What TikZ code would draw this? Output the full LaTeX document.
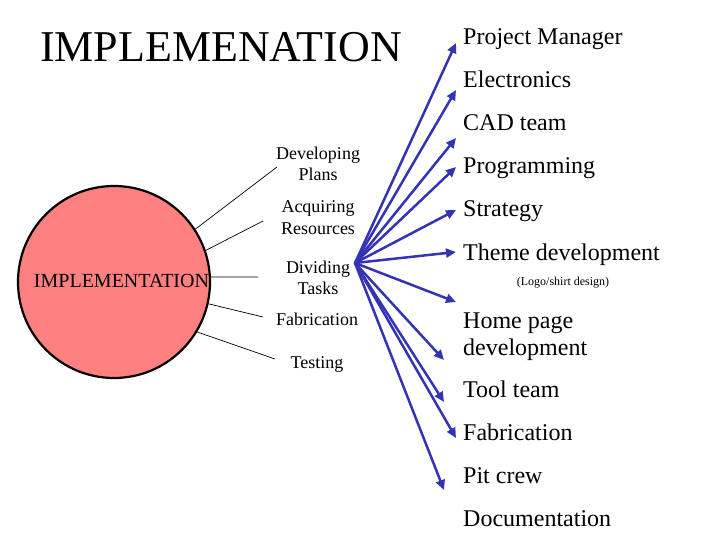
\documentclass[tikz,border=0pt]{standalone}
\usepackage{fontspec}
\setmainfont{Liberation Serif}
\usetikzlibrary{arrows.meta}
\definecolor{arrowblue}{RGB}{51,51,179}
\definecolor{circfill}{RGB}{255,128,128}
\begin{document}
\begin{tikzpicture}[x=1pt,y=-1pt,
  lbl/.style={anchor=base west,inner sep=0pt,font=\fontsize{24}{28}\selectfont},
  sml/.style={anchor=base,inner sep=0pt,font=\fontsize{18}{21}\selectfont},
  thinline/.style={draw=black,line width=0.7pt},
  task/.style={draw=arrowblue,line width=2.5pt,-{Triangle[length=10pt,width=9pt]}}]
\useasboundingbox (0,0) rectangle (720,540);
% title
\node[anchor=base,inner sep=0pt,font=\fontsize{44}{50}\selectfont] (title) at (221,62) {IMPLEMENATION};
% circle
\node[circle,draw=black,line width=2.2pt,fill=circfill,minimum size=192pt,inner sep=0pt] (circ) at (114,282) {};
\node[anchor=base,inner sep=0pt,font=\fontsize{20}{24}\selectfont] (impl) at (121.5,287) {IMPLEMENTATION};
% left labels
\node[sml] (dev1) at (318,160) {Developing};
\node[sml] (dev2) at (318,181) {Plans};
\node[sml] (acq1) at (318,213) {Acquiring};
\node[sml] (acq2) at (318,234) {Resources};
\node[sml] (div1) at (318,273) {Dividing};
\node[sml] (div2) at (318,294) {Tasks};
\node[sml] (fab) at (317,325) {Fabrication};
\node[sml] (test) at (317,368) {Testing};
% free ends of thin lines
\coordinate (edev) at (277,167);
\coordinate (eacq) at (263,221);
\coordinate (ediv) at (258,277);
\coordinate (efab) at (263,317);
\coordinate (etest) at (275,359);
\draw[thinline] (circ.33) -- (edev);
\draw[thinline] (circ.19) -- (eacq);
\draw[thinline] (circ.3) -- (ediv);
\draw[thinline] (circ.-13) -- (efab);
\draw[thinline] (circ.-31) -- (etest);
% right labels
\node[lbl] (pm) at (463,45) {Project Manager};
\node[lbl] (el) at (463,88) {Electronics};
\node[lbl] (cad) at (463,131) {CAD team};
\node[lbl] (prog) at (463,174) {Programming};
\node[lbl] (strat) at (463,217) {Strategy};
\node[lbl] (theme) at (463,260) {Theme development};
\node[anchor=base,inner sep=0pt,font=\fontsize{12}{14}\selectfont] (logo) at (563,285) {(Logo/shirt design)};
\node[lbl] (home1) at (463,328) {Home page};
\node[lbl] (home2) at (463,355) {development};
\node[lbl] (tool) at (463,397) {Tool team};
\node[lbl] (rfab) at (463,440) {Fabrication};
\node[lbl] (pit) at (463,483) {Pit crew};
\node[lbl] (doc) at (463,526) {Documentation};
% arrows
\coordinate (origin) at (355,263);
\coordinate (t1) at (456,43);
\coordinate (t2) at (456,90);
\coordinate (t3) at (456,138);
\coordinate (t4) at (456,167);
\coordinate (t5) at (456,210);
\coordinate (t6) at (456,252);
\coordinate (t7) at (456,302);
\coordinate (t8) at (444,360);
\coordinate (t9) at (444,402);
\coordinate (t10) at (456,438);
\coordinate (t11) at (444,490);
\foreach \t in {t1,t2,t3,t4,t5,t6,t7,t8,t9,t10,t11}
  \draw[task] (origin) -- (\t);
\end{tikzpicture}
\end{document}
